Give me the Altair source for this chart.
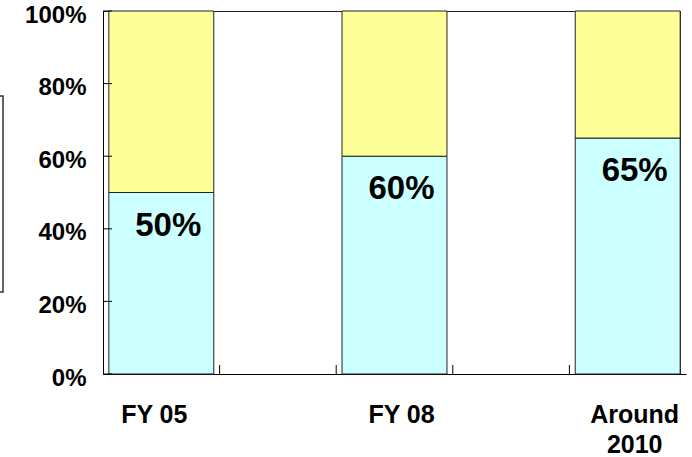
import altair as alt
import pandas as pd

# Values drawn in the chart
periods = ["FY 05", "FY 08", "Around 2010"]
share = [50, 60, 65]          # lower (cyan) segment, percent
y_ticks = [0, 20, 40, 60, 80, 100]

# Blank slots leave an empty column between neighbouring bars
slots = [periods[0], " ", periods[1], "  ", periods[2]]

rows = []
for p, s in zip(periods, share):
    rows.append({"period": p, "part": "lower", "pct": s, "rank": 0})
    rows.append({"period": p, "part": "upper", "pct": 100 - s, "rank": 1})
bars_df = pd.DataFrame(rows)
labels_df = pd.DataFrame({"period": periods, "pct": share})
xtick_df = pd.DataFrame({"period": slots[1:]})
ytick_df = pd.DataFrame({"pct": y_ticks})
box_df = pd.DataFrame({"k": [0]})

W, H = 577, 363
FONT = "Liberation Sans"

x_scale = alt.Scale(domain=slots, range=[0, 583], paddingInner=0, paddingOuter=0)
y_scale = alt.Scale(domain=[0, 100], nice=False)

x_axis = alt.Axis(
    title=None,
    ticks=False,
    labelAngle=0,
    labelFont=FONT,
    labelFontSize=25,
    labelFontWeight="bold",
    labelColor="#000",
    labelBaseline="top",
    labelPadding=28,
    labelLineHeight=30,
    labelExpr="length(datum.value) > 6 ? split(datum.value, ' ') : datum.value",
    labelOffset=alt.ExprRef("datum.value == 'FY 05' ? -7 : 7"),
)
y_axis = alt.Axis(
    title=None,
    ticks=False,
    grid=False,
    values=y_ticks,
    labelFont=FONT,
    labelFontSize=24,
    labelFontWeight="bold",
    labelColor="#000",
    labelPadding=17,
    labelOffset=4,
    labelExpr="datum.value + '%'",
)

bars = alt.Chart(bars_df).mark_bar(
    width={"band": 0.9}, stroke="#222", strokeWidth=1
).encode(
    x=alt.X("period:N", scale=x_scale, axis=x_axis, title=None),
    y=alt.Y("pct:Q", stack="zero", scale=y_scale, axis=y_axis, title=None),
    color=alt.Color(
        "part:N",
        scale=alt.Scale(domain=["lower", "upper"], range=["#CCFFFF", "#FFFF99"]),
        legend=None,
    ),
    order=alt.Order("rank:Q"),
)

labels = alt.Chart(labels_df).mark_text(
    font=FONT, fontSize=33, fontWeight="bold", color="#000",
    baseline="middle", dx=7, dy=33,
).encode(
    x=alt.X("period:N", scale=x_scale, title=None),
    y=alt.Y("pct:Q", scale=y_scale, title=None),
    text=alt.Text("pct:Q", format="d"),
).transform_calculate(txt="datum.pct + '%'").encode(text="txt:N")

# inward tick marks on both axes
x_ticks = alt.Chart(xtick_df).mark_rule(color="#000", strokeWidth=1).encode(
    x=alt.X("period:N", bandPosition=0, scale=x_scale, title=None),
    y=alt.value(H - 9),
    y2=alt.value(H),
)
y_tick_marks = alt.Chart(ytick_df).mark_rule(color="#000", strokeWidth=1).encode(
    y=alt.Y("pct:Q", scale=y_scale, title=None),
    x=alt.value(0),
    x2=alt.value(9),
)

# edge of the key box at the left border
key_box = alt.Chart(box_df).mark_rect(
    filled=False, stroke="#333", strokeWidth=1.5
).encode(
    x=alt.value(-120), x2=alt.value(-100),
    y=alt.value(85), y2=alt.value(281),
)

chart = alt.layer(bars, labels, x_ticks, y_tick_marks, key_box).properties(
    width=W,
    height=H,
    autosize=alt.AutoSizeParams(type="none"),
    padding={"left": 103, "top": 11, "right": 12, "bottom": 83},
    background="#ffffff",
).configure_view(
    stroke="#222", strokeWidth=1
).configure_axis(
    domainColor="#000", domainWidth=1
)

chart.save("out.html", embed_options={"renderer": "svg", "actions": False})
